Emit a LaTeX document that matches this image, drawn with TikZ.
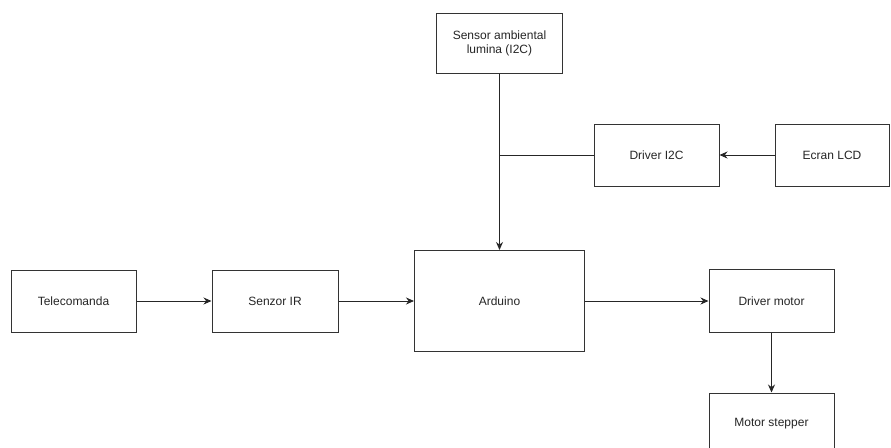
\documentclass[tikz,border=0pt]{standalone}
\usepackage{fontspec}
\setmainfont{Liberation Sans}
\usetikzlibrary{arrows.meta}
\definecolor{edge}{HTML}{333333}
\begin{document}
\begin{tikzpicture}[x=1pt,y=-1pt,
  blockbox/.style={draw=edge,line width=1pt,fill=white,inner sep=0pt,align=center,font=\fontsize{12}{14}\selectfont,text=black!85},
  conn/.style={draw=black!85,line width=1pt},
  arr/.style={conn,-{Stealth[length=8pt,width=7pt]}}]
\useasboundingbox (0,0) rectangle (891,447);
\node[blockbox,minimum width=126pt,minimum height=60pt] (sensor) at (499.5,43) {Sensor ambiental\\lumina (I2C)};
\node[blockbox,minimum width=125pt,minimum height=62pt] (i2c) at (656.5,155) {Driver I2C};
\node[blockbox,minimum width=114pt,minimum height=62pt] (lcd) at (832,155) {Ecran LCD};
\node[blockbox,minimum width=125pt,minimum height=62pt] (tele) at (73.5,301) {Telecomanda};
\node[blockbox,minimum width=126pt,minimum height=62pt] (ir) at (275,301) {Senzor IR};
\node[blockbox,minimum width=170pt,minimum height=101pt] (ard) at (499.5,301) {Arduino};
\node[blockbox,minimum width=125pt,minimum height=63pt] (drv) at (771.5,301) {Driver motor};
\node[blockbox,minimum width=125pt,minimum height=62pt] (step) at (771.5,424) {Motor stepper};
\coordinate (junc) at (sensor.south |- i2c.west);
\draw[arr] (sensor.south) -- (ard.north);
\draw[conn] (i2c.west) -- (junc);
\draw[arr] (lcd.west) -- (i2c.east);
\draw[arr] (tele.east) -- (ir.west);
\draw[arr] (ir.east) -- (ard.west);
\draw[arr] (ard.east) -- (drv.west);
\draw[arr] (drv.south) -- (step.north);
\end{tikzpicture}
\end{document}
